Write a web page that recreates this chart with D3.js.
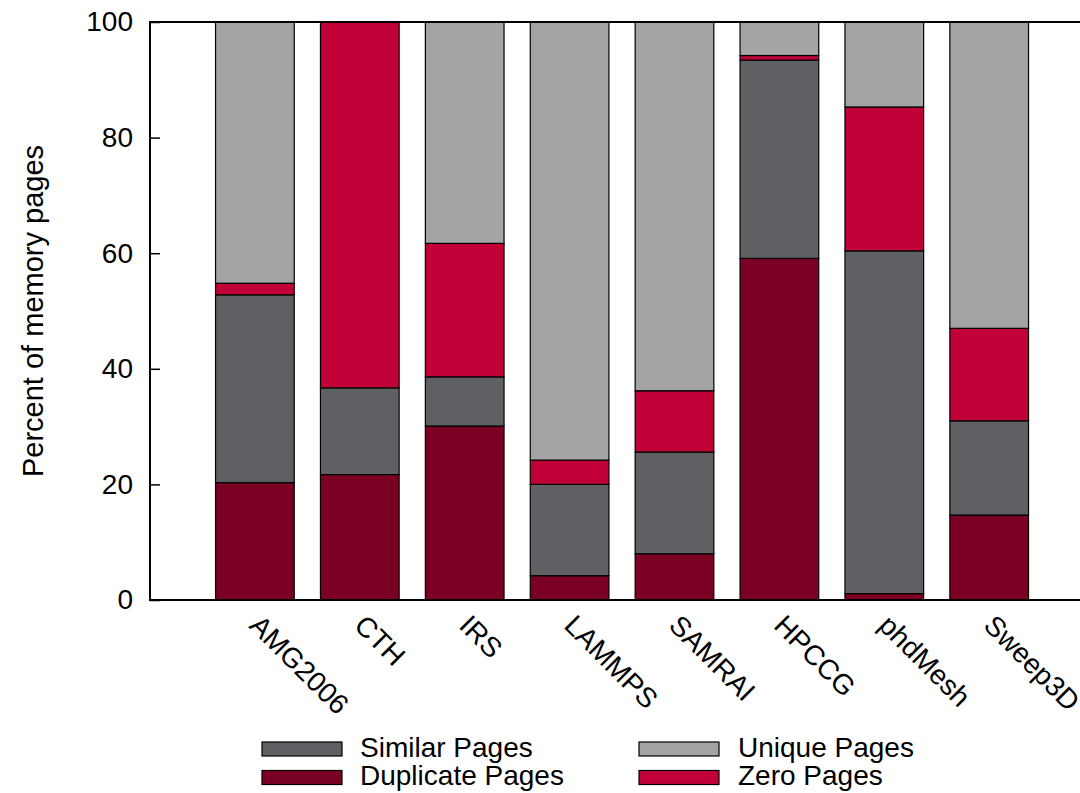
<!DOCTYPE html>
<html>
<head>
<meta charset="utf-8">
<script src="https://cdn.jsdelivr.net/npm/d3@7"></script>
<style>
  html, body { margin: 0; padding: 0; background: #fff; }
  svg { display: block; }
  text { font-family: "Liberation Sans", Arial, Helvetica, sans-serif; fill: #000; }
</style>
</head>
<body>
<script>
// Memory page classification per application (percent of pages)
const categories = ["AMG2006", "CTH", "IRS", "LAMMPS", "SAMRAI", "HPCCG", "phdMesh", "Sweep3D"];
const duplicatePages = [20.3, 21.7, 30.1, 4.2, 8.0, 59.1, 1.1, 14.7];
const similarPages   = [32.5, 15.0, 8.5, 15.8, 17.6, 34.3, 59.3, 16.3];
const zeroPages      = [2.0, 63.3, 23.1, 4.2, 10.6, 0.8, 24.9, 16.0];
const uniquePages    = [45.2, 0.0, 38.3, 75.8, 63.8, 5.8, 14.7, 53.0];
const yTicks = [0, 20, 40, 60, 80, 100];

const seriesKeys = ["Duplicate Pages", "Similar Pages", "Zero Pages", "Unique Pages"];
const colors = {
  "Duplicate Pages": "#7a0024",
  "Similar Pages": "#5f6064",
  "Zero Pages": "#c10037",
  "Unique Pages": "#a4a4a6"
};

const rows = categories.map((c, i) => ({
  name: c,
  index: i,
  "Duplicate Pages": duplicatePages[i],
  "Similar Pages": similarPages[i],
  "Zero Pages": zeroPages[i],
  "Unique Pages": uniquePages[i]
}));

const W = 1080, H = 793;
const plotLeft = 150, plotTop = 22, plotBottom = 600;
const slot = 104.9;

const svg = d3.select("body").append("svg").attr("width", W).attr("height", H);

// x runs over bar index, with one empty slot on each side
const x = d3.scaleLinear().domain([-1, categories.length]).range([plotLeft, plotLeft + slot * (categories.length + 1)]);
const y = d3.scaleLinear().domain([0, 100]).range([plotBottom, plotTop]);
const boxWidth = 0.75;

const stacked = d3.stack().keys(seriesKeys)(rows);

const layers = svg.append("g").selectAll("g")
  .data(stacked)
  .join("g")
  .attr("fill", d => colors[d.key]);

layers.selectAll("rect")
  .data(d => d.filter(p => p[1] - p[0] > 0))
  .join("rect")
  .attr("x", d => x(d.data.index - boxWidth / 2))
  .attr("width", d => x(d.data.index + boxWidth / 2) - x(d.data.index - boxWidth / 2))
  .attr("y", d => y(d[1]))
  .attr("height", d => y(d[0]) - y(d[1]))
  .attr("stroke", "#000")
  .attr("stroke-width", 1.2);

// frame: left, top, bottom
const frame = svg.append("g").attr("stroke", "#000").attr("stroke-width", 2).attr("fill", "none");
frame.append("line").attr("x1", plotLeft).attr("x2", plotLeft).attr("y1", plotTop - 1).attr("y2", plotBottom + 1);
frame.append("line").attr("x1", plotLeft - 1).attr("x2", W).attr("y1", plotTop).attr("y2", plotTop);
frame.append("line").attr("x1", plotLeft - 1).attr("x2", W).attr("y1", plotBottom).attr("y2", plotBottom);

// y axis with inward ticks
const yAxis = d3.axisLeft(y).tickValues(yTicks).tickSize(-10).tickPadding(17).tickFormat(d3.format("d"));
const yg = svg.append("g").attr("transform", `translate(${plotLeft},0)`).call(yAxis);
yg.select(".domain").remove();
yg.selectAll(".tick line").attr("stroke", "#000").attr("stroke-width", 1.5);
yg.selectAll(".tick text").attr("font-size", 28).attr("font-family", "'Liberation Sans', Arial, sans-serif").attr("fill", "#000");

// y title
svg.append("text")
  .attr("transform", `translate(43,${(plotTop + plotBottom) / 2}) rotate(-90)`)
  .attr("text-anchor", "middle")
  .attr("font-size", 29)
  .text("Percent of memory pages");

// rotated category labels
svg.append("g").selectAll("text")
  .data(rows)
  .join("text")
  .attr("transform", d => `translate(${x(d.index)},620) rotate(45)`)
  .attr("dy", "0.35em")
  .attr("text-anchor", "start")
  .attr("font-size", 28)
  .text(d => d.name);

// legend in two columns
const legendItems = [
  { key: "Similar Pages", sx: 262, tx: 360, row: 0 },
  { key: "Duplicate Pages", sx: 262, tx: 360, row: 1 },
  { key: "Unique Pages", sx: 639, tx: 738, row: 0 },
  { key: "Zero Pages", sx: 639, tx: 738, row: 1 }
];
const lg = svg.append("g").selectAll("g").data(legendItems).join("g");
lg.append("rect")
  .attr("x", d => d.sx)
  .attr("y", d => 742 + d.row * 28.5)
  .attr("width", 80)
  .attr("height", 14)
  .attr("fill", d => colors[d.key])
  .attr("stroke", "#000")
  .attr("stroke-width", 1.2);
lg.append("text")
  .attr("x", d => d.tx)
  .attr("y", d => 757 + d.row * 28)
  .attr("font-size", 28)
  .text(d => d.key);
</script>
</body>
</html>
